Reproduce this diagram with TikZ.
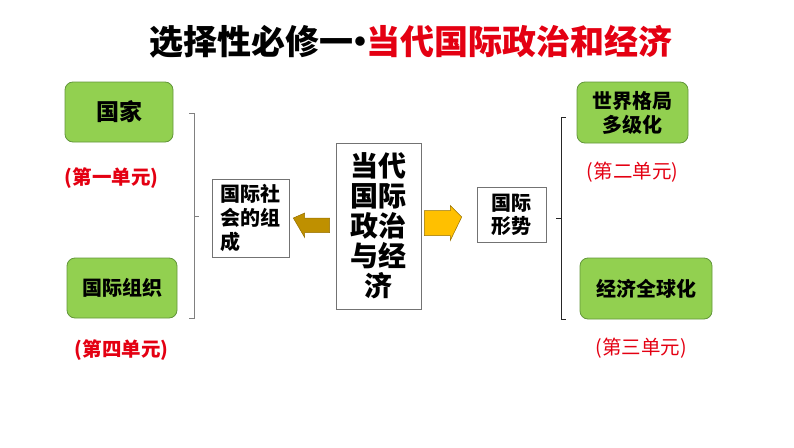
\documentclass[tikz,border=0pt]{standalone}
\usepackage{fontspec}
\setmainfont{Noto Sans CJK SC}
\usepackage{tikz}
\usetikzlibrary{arrows.meta,calc,positioning}

\definecolor{unitgreen}{RGB}{146,208,80}
\definecolor{unitedge}{RGB}{98,150,58}
\definecolor{titlered}{RGB}{228,0,18}
\definecolor{darkgold}{RGB}{191,144,0}
\definecolor{brightgold}{RGB}{255,192,0}
\definecolor{goldedge}{RGB}{150,112,0}

\tikzset{
    unitbox/.style={draw=unitedge,fill=unitgreen,rounded corners=8pt,line width=0.8pt,
        align=center,font=\fontsize{20}{24}\selectfont\bfseries},
    plainbox/.style={draw=black!55,line width=0.6pt,fill=white,inner sep=3pt},
    unitnote/.style={text=titlered,font=\fontsize{19.5}{22}\selectfont},
    boldnote/.style={text=titlered,font=\fontsize{19.5}{22}\selectfont\bfseries},
    blockarrow/.style={draw=goldedge,line width=0.5pt}
}

\begin{document}
\begin{tikzpicture}[x=1pt,y=-1pt]
    \useasboundingbox (0,0) rectangle (794,447);
    \node (title) at (411,42) {\fontsize{34}{38}\selectfont\bfseries 选择性必修一\hspace{-0.3em}•\hspace{-0.3em}\textcolor{titlered}{当代国际政治和经济}};

    \node[unitbox,minimum width=108pt,minimum height=60pt,font=\fontsize{23}{26}\selectfont\bfseries] (guojia) at (119,112) {国家};
    \node[boldnote] (unitone) at (111.5,178) {(第一单元)};
    \node[unitbox,minimum width=110pt,minimum height=60pt] (zuzhi) at (122,288) {国际组织};
    \node[boldnote] (unitfour) at (121.5,350) {(第四单元)};

    \node[plainbox,minimum width=77pt,minimum height=78pt,align=left,
        font=\fontsize{20}{24}\selectfont\bfseries] (shehui) at (250.5,218) {国际社\\会的组\\成};
    \node[plainbox,minimum width=85pt,minimum height=166pt,align=center,
        font=\fontsize{28}{30}\selectfont\bfseries] (dangdai) at (378.5,226) {当代\\国际\\政治\\与经\\济};
    \node[plainbox,minimum width=69pt,minimum height=55pt,align=left,
        font=\fontsize{20}{23}\selectfont\bfseries] (xingshi) at (511.5,214.5) {国际\\形势};

    % block arrows
    \filldraw[blockarrow,fill=darkgold] ($(dangdai.west)+(-6,-8)$) -- ++(-25,0) -- ++(0,-5)
        -- ($(shehui.east)+(4,0)$) -- ($(dangdai.west)+(-31,11.5)$) -- ++(0,-5) -- ++(25,0) -- cycle;
    \filldraw[blockarrow,fill=brightgold] ($(dangdai.east)+(3,-15.5)$) -- ++(26,0) -- ++(0,-5)
        -- ($(xingshi.west)+(-15,2.5)$) -- ($(dangdai.east)+(29,14.5)$) -- ++(0,-5) -- ++(-26,0) -- cycle;

    \node[unitbox,minimum width=111pt,minimum height=61pt] (geju) at (632.5,112.5) {世界格局\\多级化};
    \node[unitnote] (unittwo) at (632.5,172) {(第二单元)};
    \node[unitbox,minimum width=132pt,minimum height=61pt] (quanqiu) at (646,288.5) {经济全球化};
    \node[unitnote] (unitthree) at (641,348) {(第三单元)};

    % brackets
    \draw[black!50,line width=0.8pt] (189,113) -- (194,113) -- (194,318) -- (189,318);
    \draw[black!50,line width=0.8pt] (194,216) -- (199,216);
    \draw[black!85,line width=1pt] (566,117) -- (561,117) -- (561,319) -- (566,319);
    \draw[black!85,line width=1pt] (561,218) -- (556,218);
\end{tikzpicture}
\end{document}
